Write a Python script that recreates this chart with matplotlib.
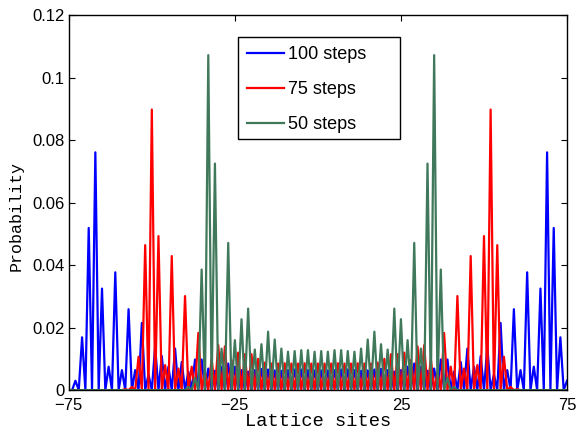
import matplotlib
matplotlib.use('Agg')
import matplotlib.pyplot as plt
from matplotlib.patches import Rectangle
import numpy as np

# lattice positions shown on the x axis
lattice = np.arange(-75, 76)

# 100 steps: odd sites only
sites_100 = list(range(-73, 76, 2))
prob_100 = [0.0030, 0.0169, 0.0519, 0.0761, 0.0325, 0.0075, 0.0377, 0.0064,
            0.0259, 0.0064, 0.0215, 0.0050, 0.0140, 0.0109, 0.0075, 0.0133,
            0.0090, 0.0059, 0.0098, 0.0098, 0.0069, 0.0062, 0.0075, 0.0085,
            0.0075, 0.0064, 0.0059, 0.0064, 0.0068, 0.0066, 0.0063, 0.0062,
            0.0064, 0.0066, 0.0066, 0.0064, 0.0063,
            0.0063,
            0.0063, 0.0064, 0.0066, 0.0066, 0.0064, 0.0062, 0.0063, 0.0066,
            0.0068, 0.0064, 0.0059, 0.0064, 0.0075, 0.0085, 0.0075, 0.0062,
            0.0069, 0.0098, 0.0098, 0.0059, 0.0090, 0.0133, 0.0075, 0.0109,
            0.0140, 0.0050, 0.0215, 0.0064, 0.0259, 0.0064, 0.0377, 0.0075,
            0.0325, 0.0761, 0.0519, 0.0169, 0.0030]

# 75 steps: even sites only
sites_75 = list(range(-58, 61, 2))
prob_75 = [0.0003, 0.0010, 0.0107, 0.0464, 0.0898, 0.0493, 0.0080, 0.0429,
           0.0069, 0.0301, 0.0075, 0.0183, 0.0060, 0.0100, 0.0144, 0.0140,
           0.0096, 0.0120, 0.0115, 0.0115, 0.0100, 0.0088, 0.0085, 0.0085,
           0.0086, 0.0085, 0.0085, 0.0086, 0.0085, 0.0085,
           0.0085, 0.0085, 0.0086, 0.0085, 0.0085, 0.0086, 0.0085, 0.0085,
           0.0088, 0.0100, 0.0115, 0.0115, 0.0120, 0.0096, 0.0140, 0.0144,
           0.0100, 0.0060, 0.0183, 0.0075, 0.0301, 0.0069, 0.0429, 0.0080,
           0.0493, 0.0898, 0.0464, 0.0107, 0.0010, 0.0003]

# 50 steps: odd sites only
sites_50 = list(range(-39, 42, 2))
prob_50 = [0.0010, 0.0040, 0.0386, 0.1072, 0.0725, 0.0133, 0.0471, 0.0160,
           0.0227, 0.0261, 0.0130, 0.0147, 0.0187, 0.0162, 0.0133, 0.0123,
           0.0125, 0.0128, 0.0128, 0.0123,
           0.0125,
           0.0123, 0.0128, 0.0128, 0.0125, 0.0123, 0.0133, 0.0162, 0.0187,
           0.0147, 0.0130, 0.0261, 0.0227, 0.0160, 0.0471, 0.0133, 0.0725,
           0.1072, 0.0386, 0.0040, 0.0010]


def on_lattice(sites, probs):
    """Put the probabilities on the full lattice, zero elsewhere"""
    y = np.zeros(len(lattice))
    y[np.array(sites) - lattice[0]] = probs
    return y


fig = plt.figure(figsize=(5.78, 4.33), dpi=100)
ax = fig.add_axes([0.119, 0.099, 0.862, 0.866])

ax.plot(lattice, on_lattice(sites_100, prob_100), color='#0000ff', lw=1.6, label='100 steps')
ax.plot(lattice, on_lattice(sites_75, prob_75), color='#ff0000', lw=1.6, label='75 steps')
ax.plot(lattice, on_lattice(sites_50, prob_50), color='#3f785a', lw=1.6, label='50 steps')

ax.set_xlim(-75, 75)
ax.set_ylim(0, 0.12)
ax.set_xticks([-75, -25, 25, 75])
ax.set_xticklabels(['\u221275', '\u221225', '25', '75'])
ax.set_yticks([0, 0.02, 0.04, 0.06, 0.08, 0.1, 0.12])
ax.set_yticklabels(['0', '0.02', '0.04', '0.06', '0.08', '0.1', '0.12'])

ax.tick_params(direction='in', top=True, right=True, length=4, width=0.8,
               labelsize=12)
ax.tick_params(axis='x', pad=6)
ax.tick_params(axis='y', pad=3)
for lab in ax.get_xticklabels() + ax.get_yticklabels():
    lab.set_family('Liberation Sans')
for sp in ax.spines.values():
    sp.set_linewidth(1.0)

ax.set_xlabel('Lattice sites', family='Liberation Mono', fontsize=13.5, labelpad=0)
ax.set_ylabel('Probability', family='Liberation Mono', fontsize=12)
ax.yaxis.set_label_coords(-0.09, 0.464)

# legend without its own frame, MATLAB-style box drawn separately
leg = ax.legend(loc='upper left', bbox_to_anchor=(0.339, 0.941), borderaxespad=0,
                prop={'family': 'Liberation Sans', 'size': 13}, frameon=False,
                handlelength=2.05, labelspacing=1.0, borderpad=0.5,
                handletextpad=0.25)
ax.add_patch(Rectangle((0.339, 0.669), 0.326, 0.272, transform=ax.transAxes,
                       fill=False, edgecolor='black', lw=1.0, zorder=5))

fig.savefig('out.png', dpi=100)
